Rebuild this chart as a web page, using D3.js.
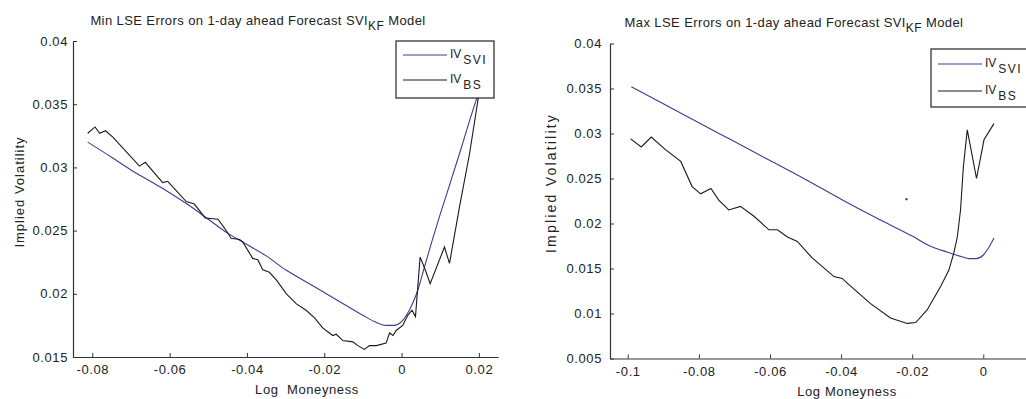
<!DOCTYPE html>
<html>
<head>
<meta charset="utf-8">
<script src="https://cdn.jsdelivr.net/npm/d3@7"></script>
<style>
  html, body { margin: 0; padding: 0; background: #fff; overflow: hidden; }
  svg { display: block; }
  text { font-family: "Liberation Sans", Arial, sans-serif; fill: #222; }
</style>
</head>
<body>
<svg id="fig" width="1026" height="399"></svg>
<script>
// ---- Min LSE errors panel: log moneyness vs implied volatility ----
const minSvi = [
  [-0.0812, 0.0320], [-0.075, 0.0308], [-0.070, 0.0298], [-0.065, 0.0289],
  [-0.060, 0.0280], [-0.055, 0.0270], [-0.050, 0.0259], [-0.045, 0.0248],
  [-0.040, 0.0239], [-0.035, 0.0230], [-0.030, 0.0219], [-0.025, 0.0210],
  [-0.020, 0.0201], [-0.015, 0.0192], [-0.010, 0.0183], [-0.007, 0.0178],
  [-0.004, 0.0175], [-0.002, 0.0175], [0.000, 0.0178], [0.002, 0.0187],
  [0.004, 0.0201], [0.006, 0.0222], [0.008, 0.0243], [0.010, 0.0263],
  [0.012, 0.0282], [0.015, 0.0311], [0.018, 0.0341], [0.020, 0.0360]
];
const minBs = [
  [-0.0812, 0.0327], [-0.0793, 0.0332], [-0.0781, 0.0327], [-0.0766, 0.0329],
  [-0.0747, 0.0324], [-0.0678, 0.0301], [-0.0663, 0.0304], [-0.0618, 0.0288],
  [-0.0605, 0.0289], [-0.0557, 0.0273], [-0.0536, 0.0271], [-0.0508, 0.0260],
  [-0.0475, 0.0259], [-0.0458, 0.0252], [-0.0441, 0.0244], [-0.0419, 0.0243],
  [-0.0411, 0.0241], [-0.0385, 0.0228], [-0.0372, 0.0227], [-0.0359, 0.0219],
  [-0.0342, 0.0217], [-0.0324, 0.0211], [-0.0298, 0.0200], [-0.0272, 0.0192],
  [-0.0247, 0.0187], [-0.0225, 0.0181], [-0.0204, 0.0173], [-0.0178, 0.0167],
  [-0.0169, 0.0168], [-0.0152, 0.0163], [-0.0126, 0.0162], [-0.0113, 0.0159],
  [-0.0096, 0.0156], [-0.0083, 0.0159], [-0.0065, 0.0159], [-0.0040, 0.0161],
  [-0.0031, 0.0169], [-0.0022, 0.0167], [-0.0014, 0.0171], [0.0003, 0.0175],
  [0.0016, 0.0183], [0.0027, 0.0187], [0.0036, 0.0182], [0.0048, 0.0229],
  [0.0060, 0.0220], [0.0074, 0.0208], [0.0111, 0.0237], [0.0124, 0.0224],
  [0.0150, 0.0269], [0.0176, 0.0311], [0.0200, 0.0358]
];
const minXTicks = [-0.08, -0.06, -0.04, -0.02, 0, 0.02];
const minXTickLabels = ["-0.08", "-0.06", "-0.04", "-0.02", "0", "0.02"];
const minYTicks = [0.015, 0.02, 0.025, 0.03, 0.035, 0.04];
const minYTickLabels = ["0.015", "0.02", "0.025", "0.03", "0.035", "0.04"];

// ---- Max LSE errors panel ----
const maxSvi = [
  [-0.099, 0.0352], [-0.090, 0.0333], [-0.080, 0.0312], [-0.070, 0.0291],
  [-0.060, 0.0270], [-0.050, 0.0249], [-0.040, 0.0227], [-0.030, 0.0206],
  [-0.020, 0.0186], [-0.015, 0.0175], [-0.010, 0.0168], [-0.006, 0.0163],
  [-0.004, 0.0161], [-0.002, 0.0161], [0.000, 0.0165], [0.0015, 0.0173],
  [0.003, 0.0184]
];
const maxBs = [
  [-0.0992, 0.0294], [-0.0962, 0.0285], [-0.0934, 0.0296], [-0.0894, 0.0282],
  [-0.0851, 0.0269], [-0.0819, 0.0241], [-0.0795, 0.0233], [-0.0766, 0.0239],
  [-0.0744, 0.0226], [-0.0716, 0.0215], [-0.0683, 0.0219], [-0.0645, 0.0208],
  [-0.0603, 0.0193], [-0.0579, 0.0193], [-0.0551, 0.0185], [-0.0523, 0.0180],
  [-0.0482, 0.0162], [-0.0420, 0.0141], [-0.0397, 0.0139], [-0.0378, 0.0132],
  [-0.0317, 0.0111], [-0.0261, 0.0095], [-0.0214, 0.0089], [-0.0190, 0.0090],
  [-0.0158, 0.0104], [-0.0120, 0.0130], [-0.0097, 0.0148], [-0.0083, 0.0167],
  [-0.0073, 0.0185], [-0.0064, 0.0215], [-0.0056, 0.0263], [-0.0045, 0.0304],
  [-0.0019, 0.0250], [0.0002, 0.0293], [0.0030, 0.0311]
];
const maxStray = [[-0.0216, 0.0227]];
const maxXTicks = [-0.1, -0.08, -0.06, -0.04, -0.02, 0];
const maxXTickLabels = ["-0.1", "-0.08", "-0.06", "-0.04", "-0.02", "0"];
const maxYTicks = [0.005, 0.01, 0.015, 0.02, 0.025, 0.03, 0.035, 0.04];
const maxYTickLabels = ["0.005", "0.01", "0.015", "0.02", "0.025", "0.03", "0.035", "0.04"];

const SVI_COLOR = "#3d3d8f";
const BS_COLOR = "#1a1a1a";
const AXIS_COLOR = "#333";
const FONT = '"Liberation Sans", Arial, sans-serif';

const svg = d3.select("#fig");
svg.append("rect").attr("width", 1026).attr("height", 399).attr("fill", "#fff");

function panel(cfg) {
  const g = svg.append("g");
  const x = d3.scaleLinear().domain(cfg.xDomain).range(cfg.xRange);
  const y = d3.scaleLinear().domain(cfg.yDomain).range(cfg.yRange);
  const [x0] = cfg.xRange;
  const [yb] = cfg.yRange;

  // axes: inward ticks on the left and bottom edges only
  const xAxis = d3.axisBottom(x).tickValues(cfg.xTicks)
    .tickFormat((d, i) => cfg.xTickLabels[i]).tickSize(-4).tickSizeOuter(0).tickPadding(8);
  const yAxis = d3.axisLeft(y).tickValues(cfg.yTicks)
    .tickFormat((d, i) => cfg.yTickLabels[i]).tickSize(-4).tickSizeOuter(0).tickPadding(cfg.yPad);

  const gx = g.append("g").attr("transform", `translate(0,${yb})`).call(xAxis);
  const gy = g.append("g").attr("transform", `translate(${x0},0)`).call(yAxis);
  [gx, gy].forEach(a => {
    a.select(".domain").attr("stroke", AXIS_COLOR).attr("stroke-width", 1.2);
    a.selectAll(".tick line").attr("stroke", AXIS_COLOR);
    a.selectAll(".tick text").attr("fill", "#222").style("font-size", "13px")
      .style("font-family", FONT).attr("letter-spacing", "0.6px");
  });

  // curves
  g.append("path").datum(cfg.svi).attr("fill", "none").attr("stroke", SVI_COLOR)
    .attr("stroke-width", 1.1)
    .attr("d", d3.line().x(d => x(d[0])).y(d => y(d[1])).curve(d3.curveMonotoneX));
  g.append("path").datum(cfg.bs).attr("fill", "none").attr("stroke", BS_COLOR)
    .attr("stroke-width", 1.1)
    .attr("d", d3.line().x(d => x(d[0])).y(d => y(d[1])));

  if (cfg.stray) {
    g.selectAll("rect.stray").data(cfg.stray).enter().append("rect")
      .attr("class", "stray").attr("x", d => x(d[0]) - 1).attr("y", d => y(d[1]) - 1)
      .attr("width", 2).attr("height", 2).attr("fill", "#333");
  }

  // title with subscript
  const t = g.append("text").attr("x", cfg.titleX).attr("y", cfg.titleY)
    .attr("text-anchor", "middle").style("font-size", "13px").attr("letter-spacing", "0.4px");
  t.append("tspan").text(cfg.titlePrefix + " Errors on 1-day ahead Forecast SVI");
  t.append("tspan").attr("dy", 5).style("font-size", "12px").text("KF");
  t.append("tspan").attr("dy", -5).text(" Model");

  // axis labels
  g.append("text").attr("x", cfg.xLabelX).attr("y", cfg.xLabelY).attr("text-anchor", "middle")
    .style("font-size", "13px").attr("letter-spacing", "0.6px")
    .attr("xml:space", "preserve").text(cfg.xLabel);
  g.append("text").attr("transform", `translate(${cfg.yLabelX},${cfg.yLabelY}) rotate(-90)`)
    .attr("text-anchor", "middle").style("font-size", cfg.yLabelFont + "px")
    .attr("letter-spacing", cfg.yLabelSpacing + "px").text("Implied Volatility");

  // legend box
  const L = cfg.legend;
  const lg = g.append("g");
  lg.append("rect").attr("x", L.x).attr("y", L.y).attr("width", L.w).attr("height", L.h)
    .attr("fill", "#fff").attr("stroke", "#222").attr("stroke-width", 1.2);
  const entries = [
    { color: SVI_COLOR, sub: "SVI", y: L.row1 },
    { color: BS_COLOR, sub: "BS", y: L.row2 }
  ];
  entries.forEach(e => {
    lg.append("line").attr("x1", L.x + 7).attr("x2", L.x + L.lineLen + 7).attr("y1", e.y).attr("y2", e.y)
      .attr("stroke", e.color).attr("stroke-width", 1.1);
    const lt = lg.append("text").attr("x", L.x + L.lineLen + 10).attr("y", e.y + 3).style("font-size", "12px");
    lt.append("tspan").text("IV");
    lt.append("tspan").attr("dy", 6).attr("dx", 2).style("font-size", "12px")
      .attr("letter-spacing", "1.5px").text(e.sub);
  });
}

panel({
  xDomain: [-0.085, 0.025], xRange: [73, 498.2],
  yDomain: [0.015, 0.04], yRange: [357, 41],
  xTicks: minXTicks, xTickLabels: minXTickLabels,
  yTicks: minYTicks, yTickLabels: minYTickLabels, yPad: 5,
  svi: minSvi, bs: minBs,
  titlePrefix: "Min LSE", titleX: 258, titleY: 25,
  xLabel: "Log  Moneyness", xLabelX: 307, xLabelY: 394,
  yLabelX: 24, yLabelY: 192, yLabelFont: 13, yLabelSpacing: 1,
  legend: { x: 396, y: 41, w: 98, h: 57, row1: 55, row2: 80, lineLen: 44 }
});

panel({
  xDomain: [-0.105, 0.015], xRange: [610, 1036.6],
  yDomain: [0.005, 0.04], yRange: [358.5, 43.5],
  xTicks: maxXTicks, xTickLabels: maxXTickLabels,
  yTicks: maxYTicks, yTickLabels: maxYTickLabels, yPad: 8,
  svi: maxSvi, bs: maxBs, stray: maxStray,
  titlePrefix: "Max LSE", titleX: 794, titleY: 27,
  xLabel: "Log Moneyness", xLabelX: 847, xLabelY: 396,
  yLabelX: 556, yLabelY: 183, yLabelFont: 14, yLabelSpacing: 2.2,
  legend: { x: 931, y: 49, w: 110, h: 58, row1: 64, row2: 91, lineLen: 44 }
});
</script>
</body>
</html>
